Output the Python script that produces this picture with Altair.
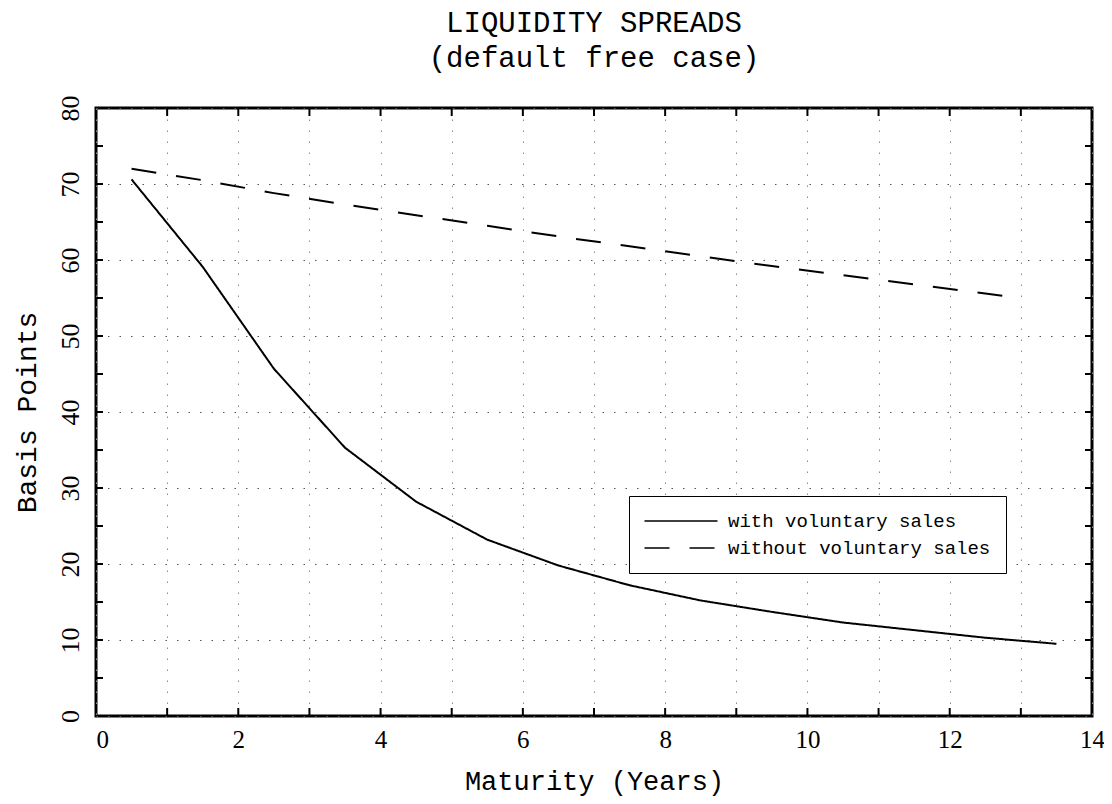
import altair as alt
import pandas as pd

# ---- data ----
series_names = ["with voluntary sales", "without voluntary sales"]

with_x = [0.5, 1.5, 2.5, 3.5, 4.5, 5.5, 6.5, 7.5, 8.5, 9.5, 10.5, 11.5, 12.5, 13.5]
with_y = [70.6, 59.1, 45.7, 35.3, 28.2, 23.2, 19.8, 17.2, 15.2, 13.7, 12.3, 11.3, 10.3, 9.5]

without_x = [0.5, 1.5, 2.5, 3.5, 4.5, 5.5, 6.5, 7.5, 8.5, 9.5, 10.5, 11.5, 12.5, 12.9]
without_y = [72.0, 70.5, 68.8, 67.3, 65.9, 64.5, 63.1, 61.8, 60.5, 59.2, 58.0, 56.8, 55.6, 55.1]

x_ticks = list(range(0, 15))          # 0..14, labels on even
y_ticks = list(range(0, 85, 5))       # 0..80, labels on multiples of 10
x_inner_ticks = list(range(1, 14))
y_inner_ticks = list(range(5, 80, 5))

title_lines = ["LIQUIDITY SPREADS", "(default free case)"]
x_title = "Maturity (Years)"
y_title = "Basis Points"

# ---- tables ----
df = pd.concat([
    pd.DataFrame({"x": with_x, "y": with_y, "series": series_names[0]}),
    pd.DataFrame({"x": without_x, "y": without_y, "series": series_names[1]}),
])
df_xt = pd.DataFrame({"x": x_inner_ticks})
df_yt = pd.DataFrame({"y": y_inner_ticks})

W, H = 996, 608
MONO = "Liberation Mono"
SERIF = "Liberation Serif"

xscale = alt.Scale(domain=[0, 14], nice=False, zero=False)
yscale = alt.Scale(domain=[0, 80], nice=False, zero=False)

x_axis = alt.Axis(values=x_ticks, title=x_title, format="d",
                  labelExpr="datum.value % 2 == 0 ? datum.label : ''",
                  grid=True, gridColor="#8a8a8a", gridDash=[1.5, 9.5], gridWidth=1,
                  domain=False, ticks=False, tickSize=0,
                  labelFont=SERIF, labelFontSize=25, labelColor="black",
                  labelPadding=11, labelBaseline="top", labelBound=False, labelOverlap=False,
                  labelAlign={"condition": {"test": "datum.value == 0", "value": "left"}, "value": "center"},
                  titleFont=MONO, titleFontSize=27, titleFontWeight="normal",
                  titleColor="black", titleBaseline="alphabetic", titleY=73)
y_axis = alt.Axis(values=y_ticks, title=y_title, format="d",
                  labelExpr="datum.value % 10 == 0 ? datum.label : ''",
                  grid=True, gridColor="#555555", gridDash=[1.5, 10], gridWidth=1,
                  domain=False, ticks=False, tickSize=0,
                  labelFont=SERIF, labelFontSize=26, labelColor="black",
                  labelAngle=270, labelAlign="center", labelBaseline="bottom",
                  labelPadding=13, labelBound=False, labelOverlap=False,
                  titleFont=MONO, titleFontSize=28, titleFontWeight="normal",
                  titleColor="black", titleAngle=270, titleBaseline="bottom",
                  titleX=-55, titleY=H / 2)

lines = alt.Chart(df).mark_line(color="black", strokeWidth=2, clip=True).encode(
    x=alt.X("x:Q", scale=xscale, axis=x_axis),
    y=alt.Y("y:Q", scale=yscale, axis=y_axis),
    strokeDash=alt.StrokeDash("series:N",
                              scale=alt.Scale(domain=series_names, range=[[1, 0], [25, 20]]),
                              legend=alt.Legend(title=None, orient="none", legendX=533, legendY=388,
                                                strokeColor="black", fillColor="white",
                                                padding=15, rowPadding=7, cornerRadius=0,
                                                symbolType="M-4,0H4", symbolSize=333,
                                                symbolOffset=27,
                                                symbolStrokeWidth=1.5, symbolStrokeColor="black",
                                                labelFont=MONO, labelFontSize=19, labelColor="black",
                                                labelOffset=37, labelLimit=400)),
)

tick_style = dict(color="black", strokeWidth=2)
bottom_ticks = alt.Chart(df_xt).mark_rule(**tick_style).encode(
    x=alt.X("x:Q", scale=xscale), y=alt.value(H), y2=alt.value(H - 8))
top_ticks = alt.Chart(df_xt).mark_rule(**tick_style).encode(
    x=alt.X("x:Q", scale=xscale), y=alt.value(0), y2=alt.value(8))
left_ticks = alt.Chart(df_yt).mark_rule(**tick_style).encode(
    y=alt.Y("y:Q", scale=yscale), x=alt.value(0), x2=alt.value(7))
right_ticks = alt.Chart(df_yt).mark_rule(**tick_style).encode(
    y=alt.Y("y:Q", scale=yscale), x=alt.value(W), x2=alt.value(W - 7))

chart = alt.layer(lines, bottom_ticks, top_ticks, left_ticks, right_ticks).properties(
    width=W, height=H,
    background="white",
    title=alt.TitleParams(text=title_lines, anchor="middle", font=MONO, fontSize=29,
                          fontWeight="normal", color="black", lineHeight=35, offset=22),
    autosize=alt.AutoSizeParams(type="none"),
    padding={"left": 88, "top": 100, "right": 12, "bottom": 80},
).configure_view(
    stroke="black", strokeWidth=3
)

chart.save("out.html", embed_options={"renderer": "svg", "actions": False})
